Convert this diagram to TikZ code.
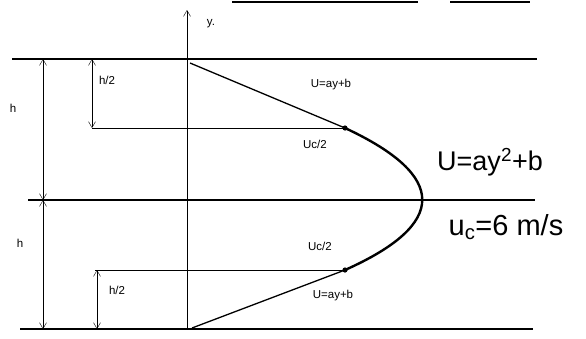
\documentclass[tikz,border=0pt]{standalone}
\usepackage{fontspec}
\setmainfont{Liberation Sans}
\usetikzlibrary{arrows.meta}

\tikzset{
  wall/.style={line width=1.4pt},
  dim/.style={<->,thin},
  lab/.style={font=\fontsize{11.5}{13}\selectfont,inner sep=1pt},
  big/.style={font=\fontsize{27}{30}\selectfont,inner sep=0pt}
}

\begin{document}
\begin{tikzpicture}[x=1pt,y=-1pt,>={Straight Barb[length=6pt,width=7pt]}]
\useasboundingbox (0,0) rectangle (586,338);

% walls and centre line
\draw [wall] (12,59) coordinate (topL) -- (537,59) coordinate (topR);
\draw [line width=1.1pt] (28,200) coordinate (midL) -- (535,200) coordinate (midR);
\draw [wall] (20,329) coordinate (botL) -- (533,329) coordinate (botR);
\draw [line width=2pt] (232,2) -- (418,2);
\draw [line width=1.2pt] (450,2) -- (530,2);

% y axis
\coordinate (ax0) at (187,329);
\coordinate (ax1) at (187,10);
\draw [->] (ax0) -- (ax1);
\node [lab] (ylab) at (211,24) {y.};

% half-height lines
\draw (92,128) coordinate (hupL) -- (345,128) coordinate (pu);
\draw (95,270) coordinate (hloL) -- (345,270) coordinate (pl);

% velocity profile
\coordinate (p0) at (190,63);
\coordinate (p3) at (192,328);
\draw [line width=1.3pt] (p0) -- (pu);
\draw [line width=1.3pt] (pl) -- (p3);
\draw [line width=2.4pt] (pu) .. controls (448,176) and (448,224) .. (pl);
\foreach \p in {pu,pl}
  \fill (\p) circle (2.6pt);

% dimensions
\draw [dim] (43,59) -- (43,200);
\draw [dim] (43,200) -- (43,329);
\draw [dim] (92,59) -- (hupL);
\draw [dim] (97,270) -- (97,329);
\node [lab] (h1) at (13,108) {h};
\node [lab] (h2) at (20,243) {h};
\node [lab] (hh1) at (107,80) {h/2};
\node [lab] (hh2) at (117,290) {h/2};

% labels
\node [lab] (lin1) at (331,85) {U=ay+b};
\node [lab] (uc1) at (315,144) {Uc/2};
\node [lab] (uc2) at (320,246) {Uc/2};
\node [lab] (lin2) at (333,296) {U=ay+b};
\node [big] (par) at (490,162) {U=ay\textsuperscript{2}+b};
\node [big,font=\fontsize{29}{32}\selectfont] (vel) at (506,227) {u\textsubscript{c}=6 m/s};

\end{tikzpicture}
\end{document}
